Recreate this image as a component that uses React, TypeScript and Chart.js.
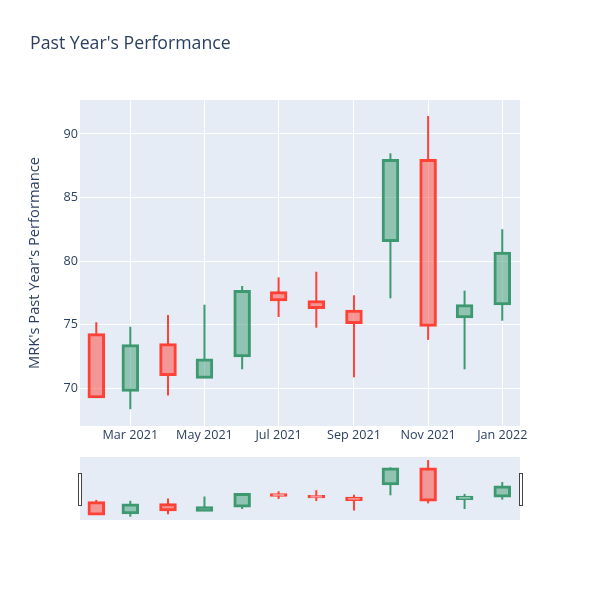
import React, { useEffect, useRef } from 'react';
import { Chart, registerables } from 'chart.js';

Chart.register(...registerables);

// ---- data ----
const periods = [
  '2021-02-01', '2021-03-01', '2021-04-01', '2021-05-01', '2021-06-01', '2021-07-01',
  '2021-08-01', '2021-09-01', '2021-10-01', '2021-11-01', '2021-12-01', '2022-01-01',
];
const opens = [74.25, 69.82, 73.47, 70.84, 72.52, 77.55, 76.85, 76.11, 81.59, 87.96, 75.59, 76.61];
const highs = [75.2, 74.85, 75.77, 76.58, 78.05, 78.73, 79.17, 77.32, 88.48, 91.42, 77.68, 82.51];
const lows = [69.25, 68.36, 69.43, 70.8, 71.5, 75.61, 74.77, 70.87, 77.08, 73.81, 71.5, 75.32];
const closes = [69.3, 73.39, 71.05, 72.26, 77.66, 76.93, 76.32, 75.14, 87.96, 74.93, 76.53, 80.67];

const xTickDates = ['2021-03-01', '2021-05-01', '2021-07-01', '2021-09-01', '2021-11-01', '2022-01-01'];
const xTickLabels = ['Mar 2021', 'May 2021', 'Jul 2021', 'Sep 2021', 'Nov 2021', 'Jan 2022'];
const yTicks = [70, 75, 80, 85, 90];

const TITLE = "Past Year's Performance";
const Y_TITLE = "MRK's Past Year's Performance";

// ---- styling / layout ----
const INC_LINE = '#3D9970';
const INC_FILL = 'rgba(61,153,112,0.5)';
const DEC_LINE = '#FF4136';
const DEC_FILL = 'rgba(255,65,54,0.5)';
const PLOT_BG = '#E5ECF6';
const TEXT = '#2a3f5f';
const FONT = '"Open Sans", verdana, arial, sans-serif';

const day = (s: string) => {
  const [y, m, d] = s.split('-').map(Number);
  return Date.UTC(y, m - 1, d) / 86400000;
};

const X_MIN = day(periods[0]) - 13.4;
const X_MAX = day(periods[periods.length - 1]) + 14.6;
const Y_MIN = 67.04;
const Y_MAX = 92.67;

function buildDatasets() {
  const inc = (i: number) => closes[i] >= opens[i];
  const xs = periods.map(day);
  const lineColors = periods.map((_, i) => (inc(i) ? INC_LINE : DEC_LINE));
  const fillColors = periods.map((_, i) => (inc(i) ? INC_FILL : DEC_FILL));
  const common = { grouped: false, borderSkipped: false as const };
  return [
    {
      ...common,
      label: 'upper',
      data: xs.map((x, i) => ({ x, y: [Math.max(opens[i], closes[i]), highs[i]] })),
      backgroundColor: lineColors,
      borderWidth: 0,
      barThickness: 2,
      inflateAmount: 0,
    },
    {
      ...common,
      label: 'lower',
      data: xs.map((x, i) => ({ x, y: [lows[i], Math.min(opens[i], closes[i])] })),
      backgroundColor: lineColors,
      borderWidth: 0,
      barThickness: 2,
      inflateAmount: 0,
    },
    {
      ...common,
      label: 'body',
      data: xs.map((x, i) => ({ x, y: [opens[i], closes[i]] })),
      backgroundColor: fillColors,
      borderColor: lineColors,
      borderWidth: 1,
      barThickness: 15.5,
      inflateAmount: 1,
    },
  ];
}

const bgPlugin = {
  id: 'plotBg',
  beforeDraw(chart: any) {
    const { ctx, chartArea: a } = chart;
    ctx.save();
    ctx.fillStyle = PLOT_BG;
    ctx.fillRect(a.left, a.top, a.right - a.left, a.bottom - a.top);
    ctx.restore();
  },
};

const handlesPlugin = {
  id: 'sliderHandles',
  afterDraw(chart: any) {
    const { ctx, chartArea: a } = chart;
    const mid = (a.top + a.bottom) / 2;
    const h = 32;
    ctx.save();
    ctx.fillStyle = '#ffffff';
    ctx.strokeStyle = '#444444';
    ctx.lineWidth = 1;
    [a.left - 2, a.right - 1].forEach((x) => {
      ctx.fillRect(x + 0.5, Math.round(mid - h / 2) + 0.5, 3, h);
      ctx.strokeRect(x + 0.5, Math.round(mid - h / 2) + 0.5, 3, h);
    });
    ctx.restore();
  },
};

export default function App() {
  const mainRef = useRef<HTMLCanvasElement>(null);
  const sliderRef = useRef<HTMLCanvasElement>(null);

  useEffect(() => {
    const tickDays = xTickDates.map(day);
    const main = new Chart(mainRef.current as HTMLCanvasElement, {
      type: 'bar',
      data: { datasets: buildDatasets() as any },
      plugins: [bgPlugin],
      options: {
        responsive: false,
        animation: false,
        events: [],
        layout: { padding: { left: 30, right: 80, top: 0, bottom: 0 } },
        plugins: {
          legend: { display: false },
          tooltip: { enabled: false },
          title: {
            display: true,
            text: TITLE,
            align: 'start',
            color: TEXT,
            font: { family: FONT, size: 17.7, weight: 'normal' },
            padding: { top: 33.4, bottom: 45.4 },
          },
        },
        scales: {
          x: {
            type: 'linear',
            offset: false,
            min: X_MIN,
            max: X_MAX,
            grid: { color: '#ffffff', lineWidth: 1, drawTicks: false, offset: false },
            border: { display: false },
            ticks: {
              autoSkip: false,
              maxRotation: 0,
              padding: 2,
              color: TEXT,
              font: { family: FONT, size: 12.6 },
              callback: (_v: any, i: number) => xTickLabels[i],
            },
            afterBuildTicks: (s: any) => {
              s.ticks = tickDays.map((v) => ({ value: v }));
            },
            afterFit: (s: any) => {
              s.height = 174;
            },
          },
          y: {
            type: 'linear',
            min: Y_MIN,
            max: Y_MAX,
            grid: { color: '#ffffff', lineWidth: 1, drawTicks: false },
            border: { display: false },
            ticks: {
              padding: 2,
              color: TEXT,
              font: { family: FONT, size: 12.6 },
              callback: (v: any) => String(v),
            },
            afterBuildTicks: (s: any) => {
              s.ticks = yTicks.map((v) => ({ value: v }));
            },
            afterFit: (s: any) => {
              s.width = 50;
            },
            title: {
              display: true,
              text: Y_TITLE,
              color: TEXT,
              font: { family: FONT, size: 14.7 },
              padding: { top: -3.8, bottom: 0 },
            },
          },
        },
      } as any,
    });

    const slider = new Chart(sliderRef.current as HTMLCanvasElement, {
      type: 'bar',
      data: { datasets: buildDatasets() as any },
      plugins: [bgPlugin, handlesPlugin],
      options: {
        responsive: false,
        animation: false,
        events: [],
        layout: { padding: { left: 80, right: 80, top: 7, bottom: 10 } },
        plugins: { legend: { display: false }, tooltip: { enabled: false } },
        scales: {
          x: { type: 'linear', offset: false, min: X_MIN, max: X_MAX, display: false },
          y: { type: 'linear', min: Y_MIN, max: Y_MAX, display: false },
        },
      } as any,
    });

    return () => {
      main.destroy();
      slider.destroy();
    };
  }, []);

  return (
    <div style={{ position: 'absolute', left: 0, top: 0, width: 600, height: 600, background: '#ffffff' }}>
      <canvas ref={mainRef} width={600} height={600} style={{ position: 'absolute', left: 0, top: 0 }} />
      <canvas ref={sliderRef} width={600} height={80} style={{ position: 'absolute', left: 0, top: 450 }} />
    </div>
  );
}
